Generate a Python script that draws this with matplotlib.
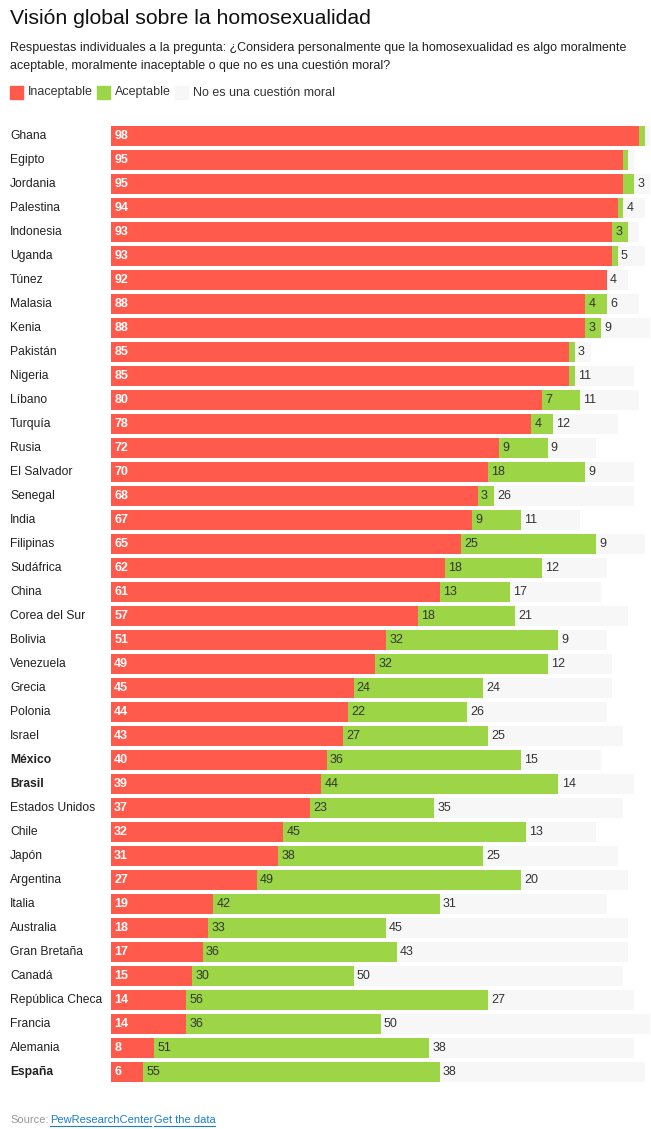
import matplotlib.pyplot as plt
from matplotlib.lines import Line2D

plt.rcParams['font.family'] = ['Liberation Sans', 'DejaVu Sans']

countries = ['Ghana', 'Egipto', 'Jordania', 'Palestina', 'Indonesia', 'Uganda', 'Túnez',
             'Malasia', 'Kenia', 'Pakistán', 'Nigeria', 'Líbano', 'Turquía', 'Rusia',
             'El Salvador', 'Senegal', 'India', 'Filipinas', 'Sudáfrica', 'China',
             'Corea del Sur', 'Bolivia', 'Venezuela', 'Grecia', 'Polonia', 'Israel',
             'México', 'Brasil', 'Estados Unidos', 'Chile', 'Japón', 'Argentina', 'Italia',
             'Australia', 'Gran Bretaña', 'Canadá', 'República Checa', 'Francia',
             'Alemania', 'España']
inaceptable = [98, 95, 95, 94, 93, 93, 92, 88, 88, 85, 85, 80, 78, 72, 70, 68, 67, 65, 62, 61,
               57, 51, 49, 45, 44, 43, 40, 39, 37, 32, 31, 27, 19, 18, 17, 15, 14, 14, 8, 6]
aceptable = [1, 1, 2, 1, 3, 1, 0, 4, 3, 1, 1, 7, 4, 9, 18, 3, 9, 25, 18, 13,
             18, 32, 32, 24, 22, 27, 36, 44, 23, 45, 38, 49, 42, 33, 36, 30, 56, 36, 51, 55]
no_moral = [1, 1, 3, 4, 2, 5, 4, 6, 9, 3, 11, 11, 12, 9, 9, 26, 11, 9, 12, 17,
            21, 9, 12, 24, 26, 25, 15, 14, 35, 13, 25, 20, 31, 45, 43, 50, 27, 50, 38, 38]
bold_countries = ['México', 'Brasil', 'España']

RED = '#ff5a4b'
GREEN = '#9cd646'
GREY = '#f7f7f7'
TEXT = '#333333'

W, H = 651, 1129
fig = plt.figure(figsize=(W / 100, H / 100), dpi=100)


def fx(px):
    return px / W


def fy(py):
    return 1 - py / H


# bars area: x 111..650 px, rows from y 124 to 1084 px
ax = fig.add_axes([fx(111), fy(1084), fx(539), (1084 - 124) / H])
pos = range(len(countries))
h = 0.83
ax.barh(pos, inaceptable, height=h, color=RED)
ax.barh(pos, aceptable, left=inaceptable, height=h, color=GREEN)
left2 = [a + b for a, b in zip(inaceptable, aceptable)]
ax.barh(pos, no_moral, left=left2, height=h, color=GREY)
ax.set_xlim(0, 100)
ax.set_ylim(len(countries) - 0.5, -0.5)
ax.axis('off')

# value labels
for i in pos:
    if inaceptable[i] >= 3:
        ax.text(0.6, i, str(inaceptable[i]), va='center', ha='left', color='white',
                fontsize=9, fontweight='bold')
    if aceptable[i] >= 3:
        ax.text(inaceptable[i] + 0.6, i, str(aceptable[i]), va='center', ha='left',
                color=TEXT, fontsize=9)
    if no_moral[i] >= 3:
        ax.text(left2[i] + 0.6, i, str(no_moral[i]), va='center', ha='left',
                color=TEXT, fontsize=9)
    # country names
    ax.text(-101 / 5.39, i, countries[i], va='center', ha='left', color='#222222', fontsize=8.7,
            fontweight='bold' if countries[i] in bold_countries else 'normal')

# Title and subtitle
fig.text(fx(10), fy(19), 'Visión global sobre la homosexualidad', fontsize=15.3, va='center',
         ha='left', color='#111111')
fig.text(fx(10), fy(48), 'Respuestas individuales a la pregunta: ¿Considera personalmente que la '
         'homosexualidad es algo moralmente', fontsize=9, va='center', ha='left', color='#222222')
fig.text(fx(10), fy(66), 'aceptable, moralmente inaceptable o que no es una cuestión moral?',
         fontsize=9, va='center', ha='left', color='#222222')

# Legend
legend_items = [('Inaceptable', RED, 10), ('Aceptable', GREEN, 97), ('No es una cuestión moral', GREY, 175)]
for label, color, x0 in legend_items:
    fig.patches.append(plt.Rectangle((fx(x0), fy(99)), fx(13), 13 / H, color=color,
                                     transform=fig.transFigure, figure=fig))
    fig.text(fx(x0 + 18), fy(92.5), label, fontsize=9, va='center', ha='left', color='#333333')

# Source
fig.text(fx(10), fy(1120), 'Source:', fontsize=8, va='center', ha='left', color='#999999')
BLUE = '#1a7ec8'
for label, x0, x1 in [('PewResearchCenter', 50, 151), ('Get the data', 154, 215)]:
    fig.text(fx(x0), fy(1120), label, fontsize=8, va='center', ha='left', color=BLUE)
    fig.add_artist(Line2D([fx(x0), fx(x1)], [fy(1126), fy(1126)], color=BLUE, linewidth=0.8))

fig.savefig('out.png', dpi=100)
